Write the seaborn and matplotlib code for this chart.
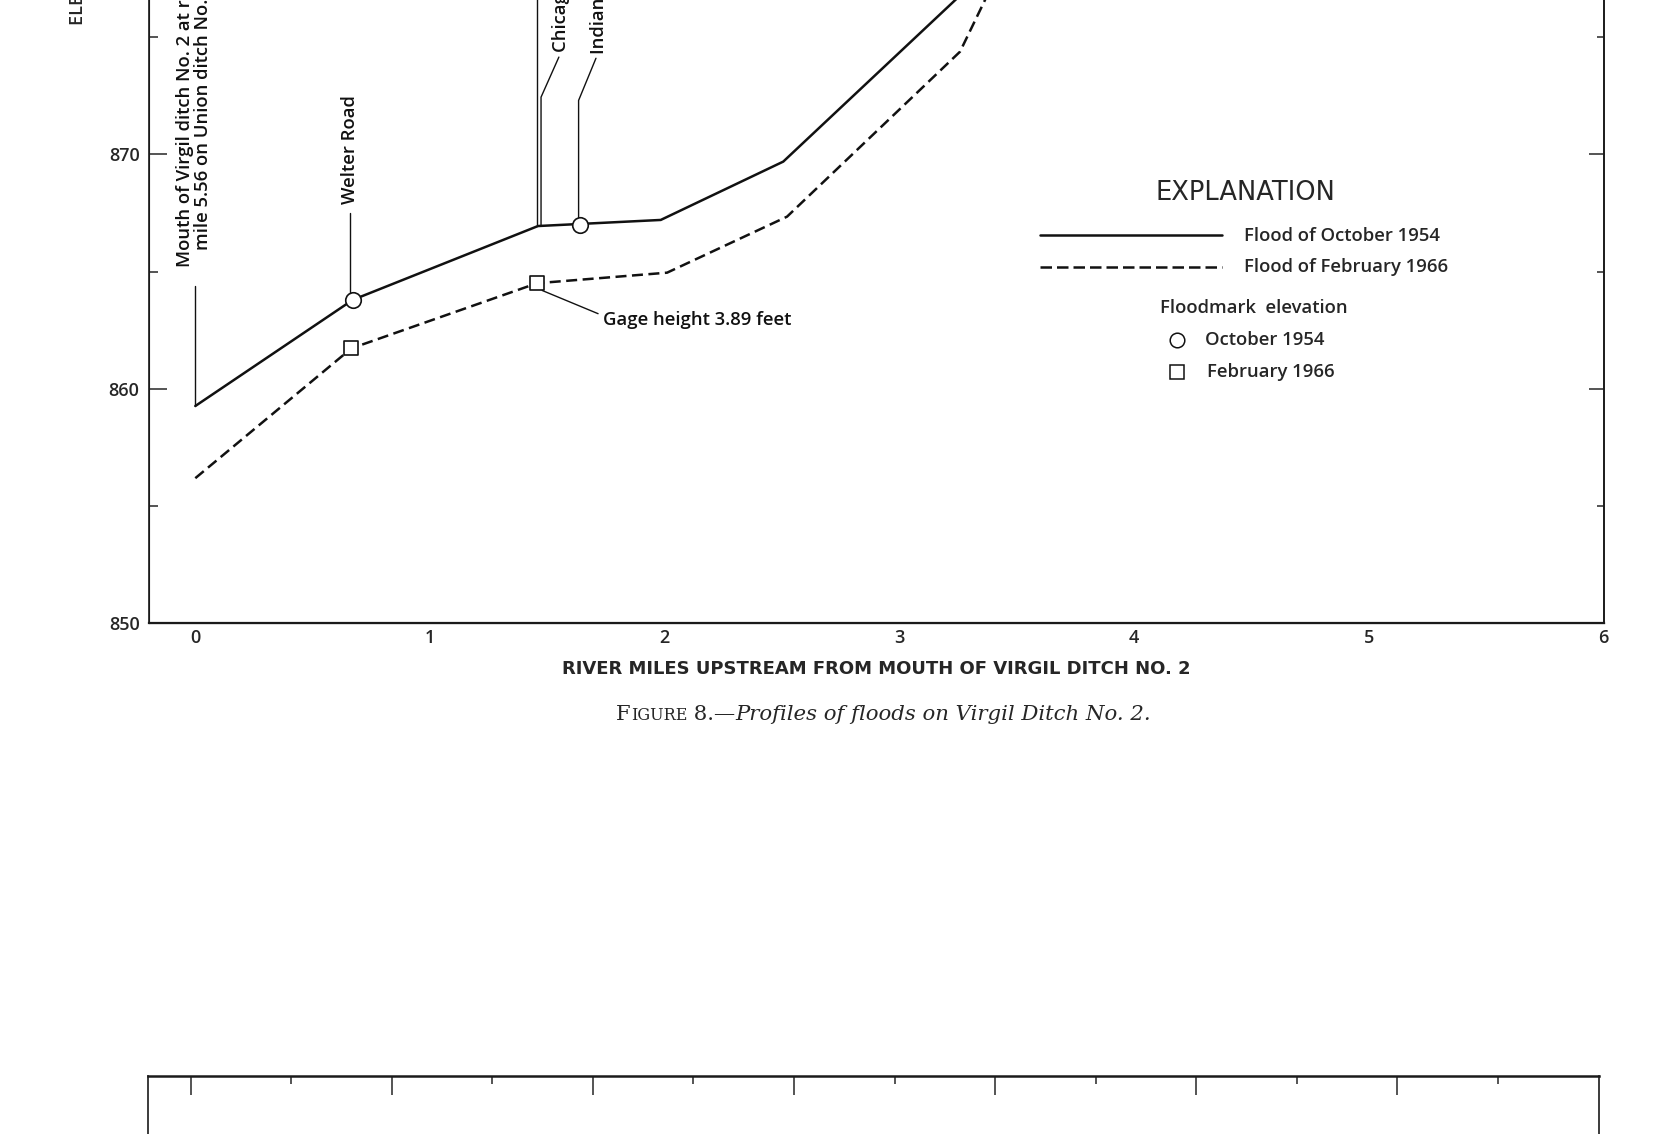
import matplotlib
matplotlib.use("Agg")
import matplotlib.pyplot as plt
from matplotlib.lines import Line2D
import pandas as pd
import seaborn as sns

# flood profiles: river miles upstream vs water-surface elevation (ft)
miles_1954 = [0.0, 0.671, 1.460, 1.983, 2.505, 3.25]
elev_1954 = [859.26, 863.79, 866.94, 867.20, 869.69, 876.7]
miles_1966 = [0.0, 0.665, 1.456, 2.010, 2.521, 3.258, 3.37]
elev_1966 = [856.18, 861.72, 864.50, 864.95, 867.34, 874.38, 876.7]

# floodmark elevations
marks_1954_miles = [0.671, 1.637]
marks_1954_elev = [863.79, 866.97]
marks_1966_miles = [0.665, 1.456]
marks_1966_elev = [861.72, 864.50]

x_major = [0, 1, 2, 3, 4, 5, 6]
x_minor = [0.5, 1.5, 2.5, 3.5, 4.5, 5.5]
y_major = [850, 860, 870, 880]
y_minor = [855, 865, 875]

SANS = ["Open Sans", "DejaVu Sans"]
WIDE = ["DejaVu Sans"]
SERIF = ["DejaVu Serif"]
W, H = 1662, 1134
INK = "#111111"


def fx(px):
    return px / W


def fy(py):
    return 1 - py / H


sns.set_style("white")
plt.rcParams["font.family"] = SANS
plt.rcParams["axes.edgecolor"] = "#1a1a1a"

fig = plt.figure(figsize=(16.62, 11.34), dpi=100)
fig.patch.set_facecolor("white")

# upper chart (top is cut off by the page)
ax = fig.add_axes([fx(149.3), fy(623), (1603.6 - 149.3) / W, 703 / H])
ax.set_xlim(-0.196, 6)
ax.set_ylim(850, 880)

df54 = pd.DataFrame({"mile": miles_1954, "elev": elev_1954})
df66 = pd.DataFrame({"mile": miles_1966, "elev": elev_1966})
sns.lineplot(data=df54, x="mile", y="elev", ax=ax, color=INK, lw=1.8,
             estimator=None, sort=False)
sns.lineplot(data=df66, x="mile", y="elev", ax=ax, color=INK, lw=1.8,
             estimator=None, sort=False, linestyle=(0, (4.4, 2.2)))
sns.scatterplot(x=marks_1954_miles, y=marks_1954_elev, ax=ax, marker="o", s=125,
                facecolor="white", edgecolor=INK, linewidth=1.2, zorder=5)
sns.scatterplot(x=marks_1966_miles, y=marks_1966_elev, ax=ax, marker="s", s=100,
                facecolor="white", edgecolor=INK, linewidth=1.2, zorder=5)

ax.set_xticks(x_major)
ax.set_xticks(x_minor, minor=True)
ax.set_yticks(y_major)
ax.set_yticks(y_minor, minor=True)
ax.tick_params(axis="x", which="major", direction="in", length=14, width=1.1,
               pad=4, labelsize=13, top=False)
ax.tick_params(axis="x", which="minor", direction="in", length=7, width=1.1, top=False)
ax.tick_params(axis="y", which="major", direction="in", length=13, width=1.1,
               pad=7, labelsize=13, right=False)
ax.tick_params(axis="y", which="minor", direction="in", length=6.5, width=1.1, right=False)
for lab in ax.get_xticklabels() + ax.get_yticklabels():
    lab.set_fontweight("semibold")
for s in ax.spines.values():
    s.set_linewidth(1.2)
ax.spines["bottom"].set_linewidth(1.6)
ax.spines["top"].set_visible(False)
ax.set_ylabel("")
ax.set_xlabel("RIVER MILES UPSTREAM FROM MOUTH OF VIRGIL DITCH NO. 2",
              fontsize=13, fontweight="bold", family=WIDE)
ax.xaxis.set_label_coords(0.5, -0.052)

tw = ax.twinx()
tw.set_ylim(ax.get_ylim())
tw.set_yticks([860, 870, 880])
tw.set_yticks(y_minor, minor=True)
tw.tick_params(axis="y", which="major", direction="in", length=11, width=1.1,
               labelright=False)
tw.tick_params(axis="y", which="minor", direction="in", length=5, width=1.1)
tw.spines["top"].set_visible(False)
tw.spines["right"].set_linewidth(1.2)

# site annotations
FS = 13.3
txt = dict(fontsize=FS, fontweight="semibold", rotation=90, ha="center",
           va="bottom", color=INK)
lk = dict(color=INK, lw=1.0)
ax.plot([miles_1954[0], miles_1954[0]], [elev_1954[0], 864.4], **lk)
ax.text(-0.005, 865.2, "Mouth of Virgil ditch No. 2 at river\nmile 5.56 on Union ditch No. 1",
        multialignment="center", linespacing=1.0, **txt)
ax.plot([0.661, 0.661], [864.06, 867.48], **lk)
ax.text(0.661, 867.9, "Welter Road", **txt)
ax.plot([1.456, 1.456], [866.94, 880], **lk)
ax.plot([1.473, 1.473, 1.549], [866.95, 872.44, 874.15], **lk)
ax.text(1.558, 874.36, "Chicago, Indianapolis and Louisville Railway", **txt)
ax.plot([1.633, 1.633, 1.707], [867.26, 872.3, 874.1], **lk)
ax.text(1.720, 874.3, "Indiana State Highway 14", **txt)
ax.plot([1.478, 1.716], [864.19, 863.2], **lk)
ax.text(1.737, 862.95, "Gage height 3.89 feet", fontsize=FS, fontweight="semibold",
        ha="left", va="center", color=INK)

fig.text(fx(78), fy(25), "ELEVATION, IN FEET ABOVE MEAN SEA LEVEL", rotation=90,
         ha="center", va="bottom", fontsize=13, fontweight="semibold")

# explanation block
fig.text(fx(1245), fy(193), "EXPLANATION", ha="center", va="center", fontsize=18.5,
         family=WIDE)
fig.add_artist(Line2D([fx(1040), fx(1222)], [fy(235), fy(235)], color=INK, lw=1.8))
fig.add_artist(Line2D([fx(1040), fx(1222)], [fy(266.5), fy(266.5)], color=INK,
                      lw=1.8, linestyle=(0, (4.6, 2.0))))
leg = dict(fontsize=FS, fontweight="semibold", va="center", ha="left")
fig.text(fx(1244), fy(236), "Flood of October 1954", **leg)
fig.text(fx(1244), fy(266.5), "Flood of February 1966", **leg)
fig.text(fx(1159.6), fy(308), "Floodmark  elevation", **leg)
fig.add_artist(Line2D([fx(1177)], [fy(340)], marker="o", ms=10.5, mfc="white",
                      mec=INK, mew=1.1, ls="none"))
fig.add_artist(Line2D([fx(1177)], [fy(371.7)], marker="s", ms=9.5, mfc="white",
                      mec=INK, mew=1.1, ls="none"))
fig.text(fx(1204.7), fy(340), "October 1954", **leg)
fig.text(fx(1206.8), fy(371.7), "February 1966", **leg)

# caption
c1 = fig.text(fx(616), fy(720), "F", family=SERIF, fontsize=15.3, va="baseline")
c2 = ax.annotate("IGURE", xy=(1, 0), xycoords=c1, family=SERIF, fontsize=11.5,
                 va="bottom", ha="left")
c3 = ax.annotate(" 8.\u2014", xy=(1, 0), xycoords=c2, family=SERIF, fontsize=15.3,
                 va="bottom", ha="left")
ax.annotate("Profiles of floods on Virgil Ditch No. 2.", xy=(1, 0), xycoords=c3,
            family=SERIF, style="italic", fontsize=15.3, va="bottom", ha="left")

# next figure on the page, only its top edge shows
ax2 = fig.add_axes([fx(148.4), fy(1076) - 0.3, (1598.5 - 148.4) / W, 0.3])
ax2.set_xlim(-0.21, 7)
ax2.set_xticks([0, 1, 2, 3, 4, 5, 6])
ax2.set_xticks([0.5, 1.5, 2.5, 3.5, 4.5, 5.5, 6.5], minor=True)
ax2.set_yticks([])
ax2.tick_params(axis="x", which="major", direction="in", length=14, width=1.1,
                top=True, bottom=False, labelbottom=False)
ax2.tick_params(axis="x", which="minor", direction="in", length=6, width=1.1,
                top=True, bottom=False)
for s in ax2.spines.values():
    s.set_linewidth(1.2)
ax2.spines["top"].set_linewidth(1.8)

fig.savefig("out.png", dpi=100, facecolor="white")
